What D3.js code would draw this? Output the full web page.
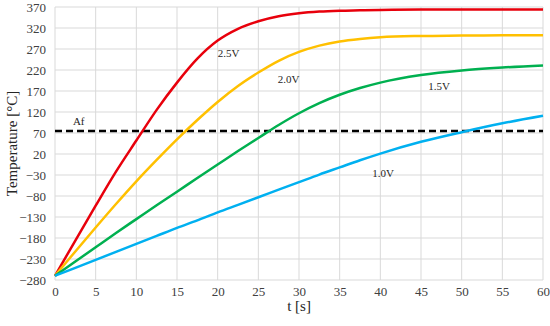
<!DOCTYPE html>
<html>
<head>
<meta charset="utf-8">
<script src="https://cdn.jsdelivr.net/npm/d3@7"></script>
<style>
  body { margin: 0; background: #fff; }
  svg { display: block; }
</style>
</head>
<body>
<div id="chart"></div>
<script>
// Time points (s)
var times = [0, 2.5, 5, 7.5, 10, 12.5, 15, 17.5, 20, 22.5, 25, 27.5, 30, 32.5, 35, 37.5, 40, 45, 50, 55, 60];

// Temperature for each voltage (°C)
var v25 = [-270, -186, -103, -22, 52, 125, 190, 247, 290, 318, 336, 348, 355, 359, 361, 362, 363, 364, 364, 364, 364];
var v20 = [-270, -212, -155, -99, -45, 6, 55, 101, 144, 182, 214, 242, 263, 278, 288, 294, 298, 301, 302, 303, 303];
var v15 = [-270, -236, -202, -168, -135, -102, -70, -37, -5, 27, 58, 89, 117, 141, 161, 177, 190, 208, 219, 226, 231];
var v10 = [-270, -251, -232, -213, -194, -175, -156, -138, -119, -101, -83, -65, -47, -29, -12, 5, 21, 49, 72, 93, 111];

var seriesNames = ["2.5V", "2.0V", "1.5V", "1.0V"];
var seriesColors = ["#e8000c", "#ffc000", "#00b050", "#00b0f0"];
var afValue = 75;

var xTicks = [0, 5, 10, 15, 20, 25, 30, 35, 40, 45, 50, 55, 60];
var yTicks = [-280, -230, -180, -130, -80, -30, 20, 70, 120, 170, 220, 270, 320, 370];

// Setup SVG
var width = 550, height = 326;
var svg = d3.select("#chart").append("svg")
  .attr("width", width)
  .attr("height", height)
  .style("font-family", "'Liberation Serif', 'Times New Roman', serif");

var plotLeft = 55, plotRight = 543, plotTop = 7, plotBottom = 280;

var x = d3.scaleLinear().domain([0, 60]).range([plotLeft, plotRight]);
var y = d3.scaleLinear().domain([-280, 370]).range([plotBottom, plotTop]);

// Gridlines
svg.append("g").selectAll("line")
  .data(yTicks).enter().append("line")
  .attr("x1", plotLeft).attr("x2", plotRight)
  .attr("y1", function (d) { return y(d); })
  .attr("y2", function (d) { return y(d); })
  .attr("stroke", "#d9d9d9").attr("stroke-width", 1);

svg.append("g").selectAll("line")
  .data(xTicks).enter().append("line")
  .attr("y1", plotTop).attr("y2", plotBottom)
  .attr("x1", function (d) { return x(d); })
  .attr("x2", function (d) { return x(d); })
  .attr("stroke", "#d9d9d9").attr("stroke-width", 1);

// Axes (labels only)
var yAxis = svg.append("g")
  .attr("transform", "translate(" + plotLeft + ",0)")
  .call(d3.axisLeft(y).tickValues(yTicks).tickSize(0).tickPadding(9));
var xAxis = svg.append("g")
  .attr("transform", "translate(0," + plotBottom + ")")
  .call(d3.axisBottom(x).tickValues(xTicks).tickSize(0).tickPadding(7));
[xAxis, yAxis].forEach(function (a) {
  a.select(".domain").remove();
  a.selectAll("text")
    .attr("font-family", "'Liberation Serif', serif")
    .attr("font-size", "13px")
    .attr("fill", "#404040");
});

// Axis titles
svg.append("text")
  .attr("x", (plotLeft + plotRight) / 2)
  .attr("y", 311)
  .attr("text-anchor", "middle")
  .attr("font-size", "15px")
  .attr("fill", "#262626")
  .text("t [s]");

svg.append("text")
  .attr("transform", "translate(17," + (plotTop + plotBottom) / 2 + ") rotate(-90)")
  .attr("text-anchor", "middle")
  .attr("font-size", "15px")
  .attr("fill", "#262626")
  .text("Temperature [°C]");

// Af dashed line
svg.append("line")
  .attr("x1", x(0)).attr("x2", x(60))
  .attr("y1", y(afValue)).attr("y2", y(afValue))
  .attr("stroke", "#000").attr("stroke-width", 2.5)
  .attr("stroke-dasharray", "7,4");

svg.append("text")
  .attr("x", x(2.2)).attr("y", y(afValue) - 6)
  .attr("font-size", "11px")
  .attr("fill", "#262626")
  .text("Af");

// Curves
var allSeries = [v25, v20, v15, v10];
var line = d3.line()
  .x(function (d, i) { return x(times[i]); })
  .y(function (d) { return y(d); })
  .curve(d3.curveMonotoneX);

allSeries.forEach(function (s, k) {
  svg.append("path")
    .datum(s)
    .attr("d", line)
    .attr("fill", "none")
    .attr("stroke", seriesColors[k])
    .attr("stroke-width", 2.5);
});

// Curve labels
var labelPos = [
  { t: 20.0, v: 251 },
  { t: 27.4, v: 189 },
  { t: 45.9, v: 172 },
  { t: 39.0, v: -35 }
];
svg.selectAll("text.lbl")
  .data(labelPos).enter().append("text")
  .attr("class", "lbl")
  .attr("x", function (d) { return x(d.t); })
  .attr("y", function (d) { return y(d.v); })
  .attr("font-size", "11px")
  .attr("fill", "#262626")
  .text(function (d, i) { return seriesNames[i]; });
</script>
</body>
</html>
